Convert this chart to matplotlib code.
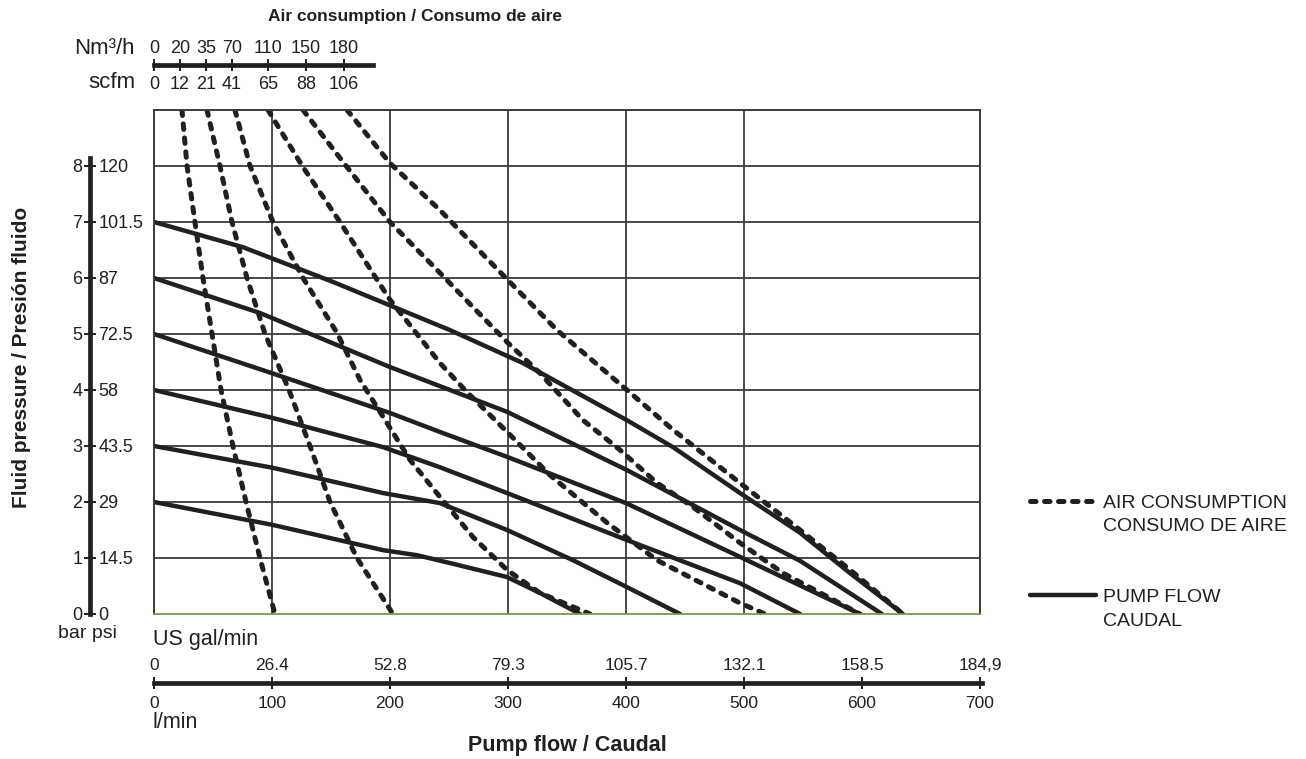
import matplotlib.pyplot as plt
from matplotlib.lines import Line2D

plt.rcParams['font.family'] = ['Liberation Sans', 'DejaVu Sans']

# pump flow (l/min) vs fluid pressure (bar), one curve per air inlet pressure
flow_2bar_x = [0, 100.8, 194.1, 222.9, 250.8, 299.2, 327.1, 361.0]
flow_2bar_y = [2.0, 1.59, 1.14, 1.05, 0.91, 0.66, 0.375, 0.0]
flow_3bar_x = [0, 100.8, 194.1, 242.4, 299.2, 355.1, 400.8, 445.8]
flow_3bar_y = [3.0, 2.61, 2.16, 1.98, 1.5, 0.96, 0.48, 0.0]
flow_4bar_x = [0, 100.8, 194.1, 242.4, 299.2, 400.8, 496.6, 547.5]
flow_4bar_y = [4.0, 3.5, 2.98, 2.62, 2.16, 1.32, 0.55, 0.0]
flow_5bar_x = [0, 100, 200, 242.4, 300, 400, 496.6, 598.3]
flow_5bar_y = [5.0, 4.3, 3.59, 3.25, 2.8, 1.98, 1.02, 0.0]
flow_6bar_x = [0, 89.8, 200, 299.2, 400.8, 496.6, 547.5, 616.9]
flow_6bar_y = [6.0, 5.375, 4.41, 3.61, 2.57, 1.5, 0.95, 0.0]
flow_7bar_x = [0, 75.4, 151.7, 250.8, 312.7, 400.8, 439.8, 496.6, 547.5, 589.8, 634.7]
flow_7bar_y = [7.0, 6.55, 5.93, 5.07, 4.48, 3.46, 2.98, 2.16, 1.45, 0.73, 0.0]

# air consumption curves (constant Nm3/h)
air_20_x = [23.7, 28.0, 34.7, 41.5, 49.2, 56.8, 66.9, 78.0, 89.8, 102.5]
air_20_y = [9, 8, 7, 6, 5, 4, 3, 2, 1, 0]
air_35_x = [44.9, 55.9, 66.1, 78.8, 94.1, 114.4, 132.2, 149.2, 172.0, 202.5]
air_35_y = [9, 8, 7, 6, 5, 4, 3, 2, 1, 0]
air_70_x = [68.6, 81.4, 100.8, 126.3, 155.1, 174.6, 191.5, 217.0, 242.4, 270.3, 299.2, 327.1, 369.5]
air_70_y = [9, 8, 7, 6, 5.02, 4.18, 3.61, 2.75, 2.09, 1.375, 0.786, 0.375, 0]
air_110_x = [96.6, 126.3, 157.6, 200, 242.4, 265.3, 301.7, 335.6, 383.9, 426.3, 496.6, 517.8]
air_110_y = [9, 7.98, 7.0, 5.61, 4.48, 3.96, 3.2, 2.48, 1.63, 0.96, 0.196, 0]
air_150_x = [126.3, 163.6, 200, 242.4, 270.3, 300, 327.1, 363.6, 394.9, 426.3, 456.8, 496.6, 533.1, 598.3]
air_150_y = [9, 7.98, 7.0, 6.09, 5.48, 4.84, 4.3, 3.46, 2.93, 2.34, 1.91, 1.27, 0.73, 0]
air_180_x = [163.6, 200, 242.4, 300, 341.5, 400.8, 439.8, 496.6, 547.5, 589.8, 634.7]
air_180_y = [9, 8.05, 7.21, 5.96, 5.07, 4.0, 3.29, 2.34, 1.5, 0.79, 0]

# scales
bar_ticks = [0, 1, 2, 3, 4, 5, 6, 7, 8]
psi_labels = ['0', '14.5', '29', '43.5', '58', '72.5', '87', '101.5', '120']
lmin_ticks = [0, 100, 200, 300, 400, 500, 600, 700]
gal_labels = ['0', '26.4', '52.8', '79.3', '105.7', '132.1', '158.5', '184,9']
nm3_ticks = [0, 22, 44.1, 66.1, 96.6, 128.8, 161.0]
nm3_labels = ['0', '20', '35', '70', '110', '150', '180']
scfm_labels = ['0', '12', '21', '41', '65', '88', '106']

W, H = 1306, 759
ink = '#231f20'
fig = plt.figure(figsize=(W / 100, H / 100), dpi=100)

ax = fig.add_axes([154 / W, 1 - 614 / H, (980 - 154) / W, (614 - 110) / H])
ax.set_xlim(0, 700)
ax.set_ylim(0, 9)
ax.set_xticks([100, 200, 300, 400, 500])
ax.set_yticks([1, 2, 3, 4, 5, 6, 7, 8])
ax.grid(True, color='#3a3a3a', linewidth=1.3)
ax.tick_params(length=0, labelleft=False, labelbottom=False)
for side in ['left', 'top', 'right']:
    ax.spines[side].set_color('#3a3a3a')
    ax.spines[side].set_linewidth(1.4)
ax.spines['bottom'].set_color('#6f9f3f')
ax.spines['bottom'].set_linewidth(1.3)

dash = dict(color=ink, linewidth=3.6, linestyle=(0, (1.1, 1.7)), dash_capstyle='round')
solid = dict(color=ink, linewidth=3.2, solid_capstyle='round', solid_joinstyle='round')

air_lines = []
for xs, ys in [(air_20_x, air_20_y), (air_35_x, air_35_y), (air_70_x, air_70_y),
               (air_110_x, air_110_y), (air_150_x, air_150_y), (air_180_x, air_180_y)]:
    air_lines += ax.plot(xs, ys, **dash)

flow_lines = []
for xs, ys in [(flow_2bar_x, flow_2bar_y), (flow_3bar_x, flow_3bar_y), (flow_4bar_x, flow_4bar_y),
               (flow_5bar_x, flow_5bar_y), (flow_6bar_x, flow_6bar_y), (flow_7bar_x, flow_7bar_y)]:
    flow_lines += ax.plot(xs, ys, **solid)

# left pressure scale (bar / psi)
axl = fig.add_axes([90 / W, 1 - 614 / H, 1e-4, (614 - 110) / H])
axl.set_ylim(0, 9)
axl.set_xticks([])
for side in ['top', 'right', 'bottom']:
    axl.spines[side].set_visible(False)
axl.spines['left'].set_linewidth(3.4)
axl.spines['left'].set_color(ink)
axl.spines['left'].set_bounds(0, 8.15)
axl.set_yticks(bar_ticks, labels=[str(b) for b in bar_ticks])
axl.tick_params(axis='y', direction='inout', length=9, width=1.4, color=ink,
                labelsize=13, pad=1, labelcolor=ink)
psi = axl.secondary_yaxis('right')
psi.set_yticks(bar_ticks, labels=psi_labels)
psi.tick_params(length=0, pad=6, labelsize=13, labelcolor=ink)
psi.spines['right'].set_visible(False)

# top air consumption scale
axt = fig.add_axes([154 / W, 1 - 65 / H, (980 - 154) / W, 1e-4])
axt.set_xlim(0, 700)
axt.set_yticks([])
for side in ['top', 'right', 'left']:
    axt.spines[side].set_visible(False)
axt.spines['bottom'].set_linewidth(3.4)
axt.spines['bottom'].set_color(ink)
axt.spines['bottom'].set_bounds(0, 186)
axt.set_xticks(nm3_ticks, labels=nm3_labels)
axt.tick_params(axis='x', direction='inout', length=8, width=1.4, color=ink,
                labelsize=13, labeltop=True, labelbottom=False, pad=2, labelcolor=ink)
scfm = axt.secondary_xaxis('bottom')
scfm.set_xticks(nm3_ticks, labels=scfm_labels)
scfm.tick_params(length=0, pad=8, labelsize=13, labelcolor=ink)
scfm.spines['bottom'].set_visible(False)

# bottom flow scale (l/min / US gal/min)
axb = fig.add_axes([154 / W, 1 - 683 / H, (980 - 154) / W, 1e-4])
axb.set_xlim(0, 700)
axb.set_yticks([])
for side in ['top', 'right', 'left']:
    axb.spines[side].set_visible(False)
axb.spines['bottom'].set_linewidth(3.4)
axb.spines['bottom'].set_color(ink)
axb.spines['bottom'].set_bounds(0, 702)
axb.set_xticks(lmin_ticks, labels=[str(v) for v in lmin_ticks])
axb.tick_params(axis='x', direction='inout', length=8, width=1.4, color=ink,
                labelsize=12.5, pad=5, labelcolor=ink)
gal = axb.secondary_xaxis('top')
gal.set_xticks(lmin_ticks, labels=gal_labels)
gal.tick_params(length=0, pad=7, labelsize=12.5, labelcolor=ink)
gal.spines['top'].set_visible(False)

fig.text(415 / W, 1 - 17 / H, 'Air consumption / Consumo de aire', ha='center', va='center',
         fontsize=12.5, fontweight='bold', color=ink)
fig.text(135 / W, 1 - 48 / H, 'Nm³/h', ha='right', va='center', fontsize=16, color=ink)
fig.text(135 / W, 1 - 83 / H, 'scfm', ha='right', va='center', fontsize=16, color=ink)
fig.text(88 / W, 1 - 633 / H, 'bar psi', ha='center', va='center', fontsize=14, color=ink)
fig.text(153 / W, 1 - 640 / H, 'US gal/min', ha='left', va='center', fontsize=15.5, color=ink)
fig.text(153 / W, 1 - 722 / H, 'l/min', ha='left', va='center', fontsize=15.5, color=ink)
fig.text(567 / W, 1 - 746 / H, 'Pump flow / Caudal', ha='center', va='center',
         fontsize=15.5, fontweight='bold', color=ink)
fig.text(22 / W, 1 - 357 / H, 'Fluid pressure / Presión fluido', ha='center', va='center',
         rotation=90, fontsize=15, fontweight='bold', color=ink)

# legend: handle sits on the first line of each two-line label
blank = Line2D([], [], linestyle='none')
fig.legend([air_lines[0], blank, blank, blank, flow_lines[0], blank],
           ['AIR CONSUMPTION', 'CONSUMO DE AIRE', ' ', ' ', 'PUMP FLOW', 'CAUDAL'],
           loc='upper left', bbox_to_anchor=(1030 / W, 1 - 494 / H), frameon=False,
           borderpad=0, borderaxespad=0, fontsize=14, handlelength=3.4,
           handletextpad=0.35, labelspacing=0.31, labelcolor=ink)

fig.savefig('out.png', dpi=100)
